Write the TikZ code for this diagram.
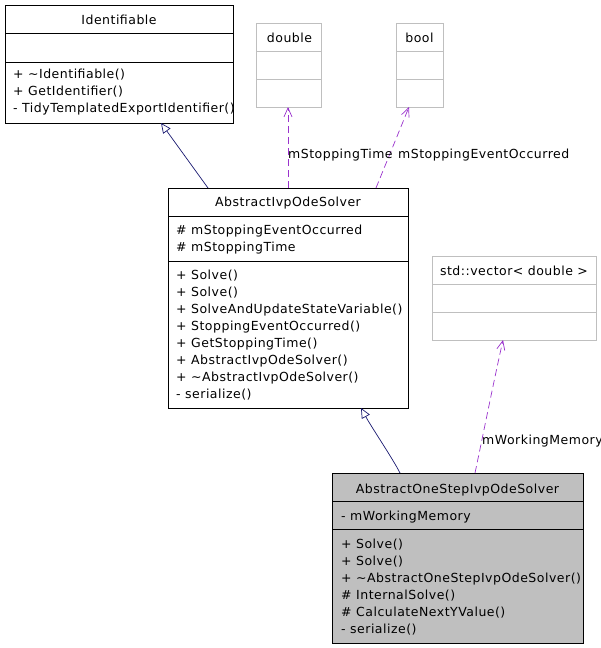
\documentclass[tikz,border=0pt]{standalone}
\usepackage{fontspec}
\setmainfont{DejaVu Sans}[LetterSpace=4]
\usetikzlibrary{arrows.meta}
\definecolor{navyline}{HTML}{191970}
\definecolor{deppurple}{HTML}{9A32CD}
\definecolor{boxgray}{HTML}{BFBFBF}
\tikzset{
  umlbox/.style={draw=black, line width=0.8pt, inner sep=0pt, outer sep=0pt},
  extbox/.style={draw=boxgray, line width=0.8pt, inner sep=0pt, outer sep=0pt},
  sep/.style={line width=0.8pt},
  title/.style={font=\fontsize{12.5}{15}\selectfont, inner sep=0pt, text height=10.5pt, text depth=0pt},
  member/.style={title, anchor=west},
  inherit/.style={draw=navyline, line width=0.7pt, -{Triangle[open, length=10pt, width=9pt]}},
  usage/.style={draw=deppurple, line width=0.7pt, dash pattern=on 7pt off 4pt, -{Straight Barb[length=9pt, width=8pt]}},
  elabel/.style={title, anchor=west}
}
\begin{document}
\begin{tikzpicture}[x=1pt, y=-1pt]
\useasboundingbox (0,0) rectangle (601,648);

% Identifiable
\node[umlbox, minimum width=228pt, minimum height=118pt] (ident) at (119,64) {};
\draw[sep] (5,33) -- (233,33);
\draw[sep] (5,62) -- (233,62);
\node[title] (identT) at (119,19) {Identifiable};
\node[member] (identM1) at (13,73) {+ \textasciitilde Identifiable()};
\node[member] (identM2) at (13,90) {+ GetIdentifier()};
\node[member] (identM3) at (13,107) {- TidyTemplatedExportIdentifier()};

% double
\node[extbox, minimum width=65pt, minimum height=84pt] (dbl) at (288.5,65) {};
\draw[sep, boxgray] (256,51) -- (321,51);
\draw[sep, boxgray] (256,79) -- (321,79);
\node[title] (dblT) at (289.5,37) {double};

% bool
\node[extbox, minimum width=47pt, minimum height=84pt] (bool) at (419.5,65) {};
\draw[sep, boxgray] (396,51) -- (443,51);
\draw[sep, boxgray] (396,79) -- (443,79);
\node[title] (boolT) at (419.5,37) {bool};

% std::vector
\node[extbox, minimum width=164pt, minimum height=84pt] (vec) at (514,298) {};
\draw[sep, boxgray] (432,284) -- (596,284);
\draw[sep, boxgray] (432,312) -- (596,312);
\node[title] (vecT) at (514,270) {std::vector< double >};

% AbstractIvpOdeSolver
\node[umlbox, minimum width=240pt, minimum height=220pt] (aios) at (288,298) {};
\draw[sep] (168,216) -- (408,216);
\draw[sep] (168,261) -- (408,261);
\node[title] (aiosT) at (288,201) {AbstractIvpOdeSolver};
\node[member] (aiosA1) at (176,229) {\# mStoppingEventOccurred};
\node[member] (aiosA2) at (176,246) {\# mStoppingTime};
\node[member] (aiosM1) at (176,274) {+ Solve()};
\node[member] (aiosM2) at (176,291) {+ Solve()};
\node[member] (aiosM3) at (176,308) {+ SolveAndUpdateStateVariable()};
\node[member] (aiosM4) at (176,325) {+ StoppingEventOccurred()};
\node[member] (aiosM5) at (176,342) {+ GetStoppingTime()};
\node[member] (aiosM6) at (176,359) {+ AbstractIvpOdeSolver()};
\node[member] (aiosM7) at (176,376) {+ \textasciitilde AbstractIvpOdeSolver()};
\node[member] (aiosM8) at (176,393) {- serialize()};

% AbstractOneStepIvpOdeSolver
\node[umlbox, fill=boxgray, minimum width=251pt, minimum height=170pt] (aos) at (457.5,558) {};
\draw[sep] (332,501) -- (583,501);
\draw[sep] (332,529) -- (583,529);
\node[title] (aosT) at (457.5,488) {AbstractOneStepIvpOdeSolver};
\node[member] (aosA1) at (341,515) {- mWorkingMemory};
\node[member] (aosM1) at (341,543) {+ Solve()};
\node[member] (aosM2) at (341,560) {+ Solve()};
\node[member] (aosM3) at (341,577) {+ \textasciitilde AbstractOneStepIvpOdeSolver()};
\node[member] (aosM4) at (341,594) {\# InternalSolve()};
\node[member] (aosM5) at (341,611) {\# CalculateNextYValue()};
\node[member] (aosM6) at (341,628) {- serialize()};

% inheritance
\draw[inherit] ([xshift=40pt]aios.north west) -- ([xshift=156pt]ident.south west);
\draw[inherit] ([xshift=68pt]aos.north west) .. controls (393,459) and (372,428) .. ([xshift=193pt]aios.south west);

% usage
\draw[usage] ([xshift=120pt]aios.north west) -- ([xshift=32pt]dbl.south west);
\draw[usage] ([xshift=208pt]aios.north west) -- ([xshift=13pt]bool.south west);
\draw[usage] ([xshift=143pt]aos.north west) .. controls (482,440) and (494,380) .. ([xshift=71pt]vec.south west);

\node[elabel] (lblTime) at (288,153) {mStoppingTime};
\node[elabel] (lblEvent) at (398,153) {mStoppingEventOccurred};
\node[elabel] (lblMem) at (482,439) {mWorkingMemory};
\end{tikzpicture}
\end{document}
